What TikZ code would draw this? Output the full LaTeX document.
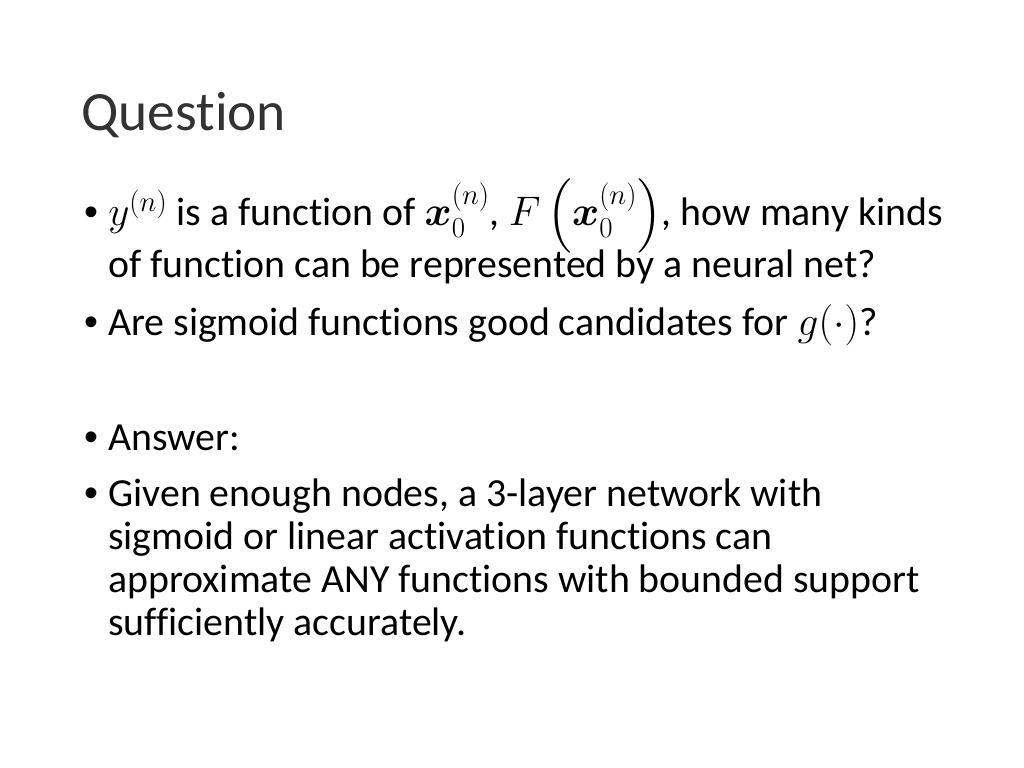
\RequirePackage{fix-cm}
\documentclass[tikz,border=0pt]{standalone}
\usepackage{amsmath,amssymb}
\usepackage{fontspec}
\setmainfont[Ligatures=NoCommon]{Carlito}
\newfontfamily\bulfont{Liberation Sans}
\newcommand{\mm}[1]{{\fontsize{29}{34}\selectfont$#1$}}
\begin{document}
\begin{tikzpicture}[x=0.703125pt,y=-0.703125pt,
  body/.style={anchor=base west,inner sep=0pt,font=\fontsize{28}{34}\selectfont},
  bul/.style={anchor=base west,inner sep=0pt,font=\bulfont\fontsize{28}{34}\selectfont},
  title/.style={anchor=base west,inner sep=0pt,font=\fontsize{39}{48}\selectfont,text=black!80}]
\useasboundingbox (0,0) rectangle (1024,768);
\node[title] (t) at (81,131) {Question};
\node[bul] (b1) at (84,226) {•};
\node[body] (l1) at (108,226) {\mm{y^{(n)}} is a function of \mm{\boldsymbol{x}_0^{(n)}}, \mm{F\left(\boldsymbol{x}_0^{(n)}\right)}, how many kinds};
\node[body] (l2) at (108,278) {of function can be represented by a neural net?};
\node[bul] (b2) at (84,335) {•};
\node[body] (l3) at (108,335) {Are sigmoid functions good candidates for \mm{g(\cdot)}?};
\node[bul] (b3) at (84,450) {•};
\node[body] (l4) at (108,450) {Answer:};
\node[bul] (b4) at (84,506) {•};
\node[body] (l5) at (108,506) {Given enough nodes, a 3-layer network with};
\node[body] (l6) at (108,549) {sigmoid or linear activation functions can};
\node[body] (l7) at (108,592) {approximate ANY functions with bounded support};
\node[body] (l8) at (108,635) {sufficiently accurately.};
\end{tikzpicture}
\end{document}
